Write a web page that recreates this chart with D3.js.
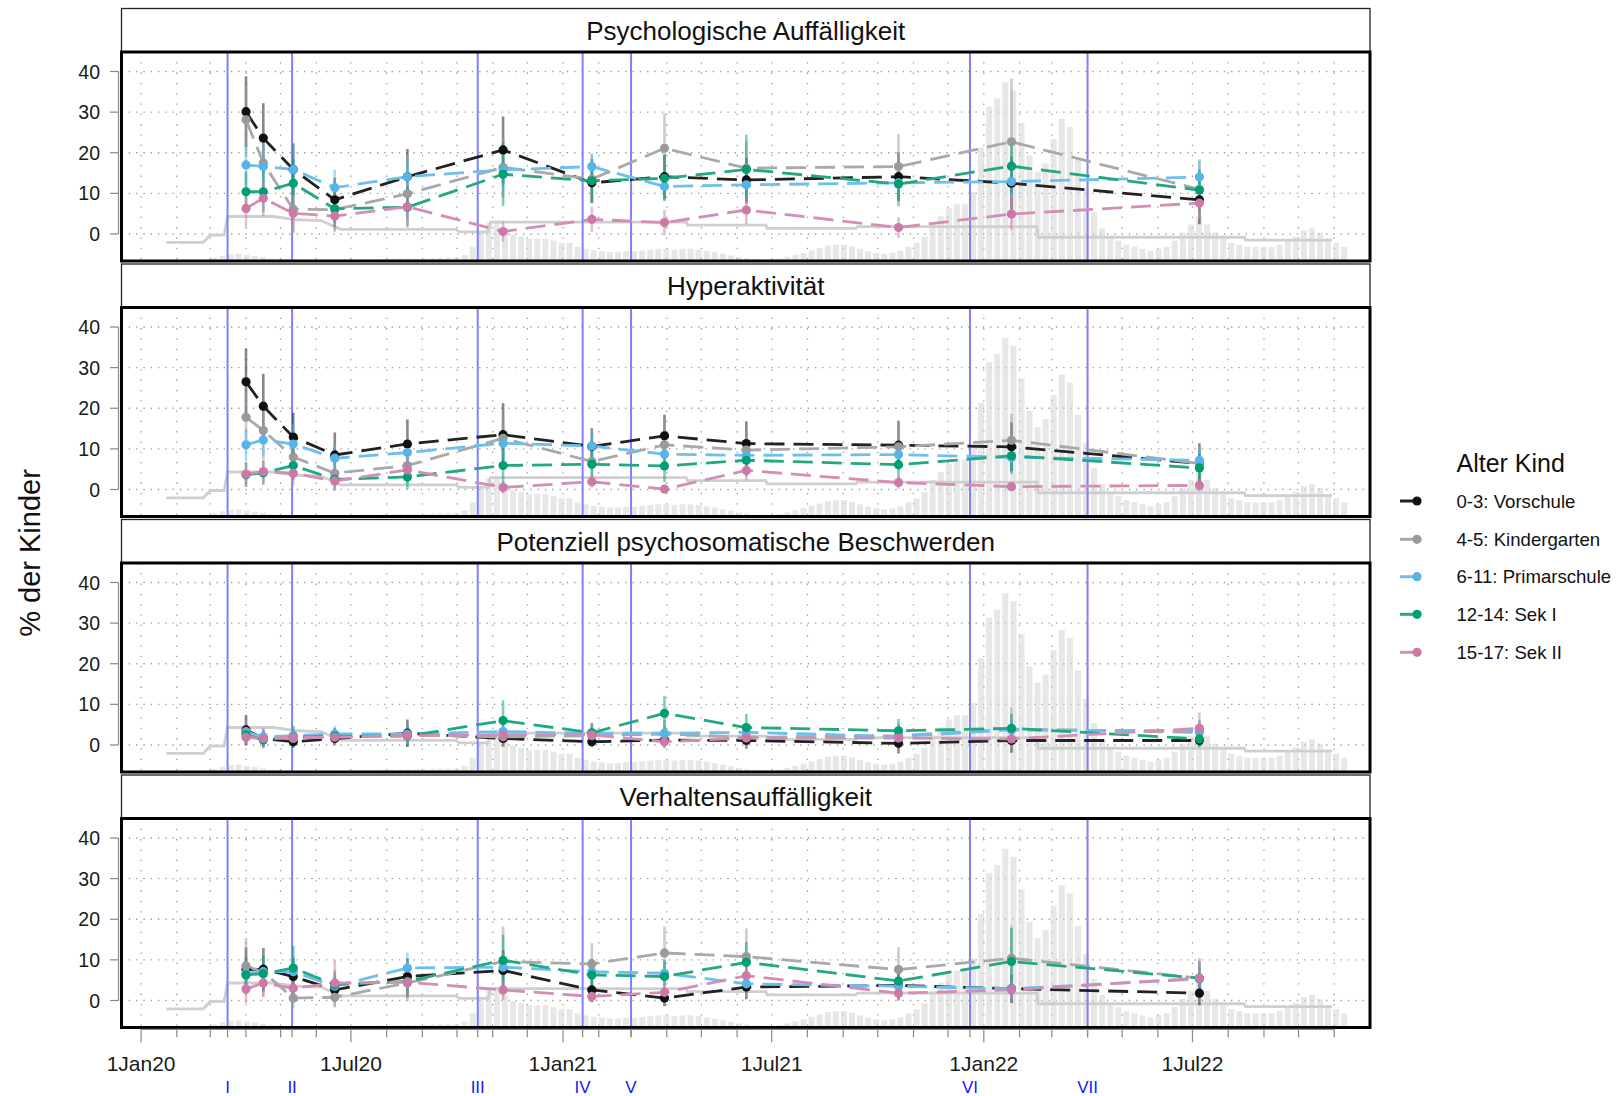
<!DOCTYPE html>
<html><head><meta charset="utf-8">
<script src="https://cdn.jsdelivr.net/npm/d3@7"></script>
<style>body{margin:0;background:#fff;} svg{display:block;font-family:"Liberation Sans",Arial,Helvetica,sans-serif;}</style>
</head><body><svg id="chart" width="1618" height="1096"></svg>
<script>
// ---------------- data ----------------
const surveyDates = ["2020-04-01","2020-04-16","2020-05-12","2020-06-17","2020-08-19","2020-11-10","2021-01-26","2021-03-30","2021-06-09","2021-10-19","2022-01-25","2022-07-07"];
const groups = ["0-3: Vorschule","4-5: Kindergarten","6-11: Primarschule","12-14: Sek I","15-17: Sek II"];
const facets = ["Psychologische Auffälligkeit","Hyperaktivität","Potenziell psychosomatische Beschwerden","Verhaltensauffälligkeit"];
const yTicks = [0,10,20,30,40];
const xTickLabels = [["2020-01-01","1Jan20"],["2020-07-01","1Jul20"],["2021-01-01","1Jan21"],["2021-07-01","1Jul21"],["2022-01-01","1Jan22"],["2022-07-01","1Jul22"]];
const eventDates = ["2020-03-16","2020-05-11","2020-10-19","2021-01-18","2021-03-01","2021-12-20","2022-04-01"];
const eventLabels = ["I","II","III","IV","V","VI","VII"];

// % per group (rows follow groups), per survey wave
const psychValues = [
  [30.1,23.6,15.9,8.4,14.1,20.7,12.6,14.1,13.3,14.1,12.5,8.4],
  [28.1,17.5,6.1,6.0,9.9,16.4,13.5,21.1,16.2,16.6,22.7,11.0],
  [17.0,16.6,15.9,11.4,14.1,15.8,16.6,11.7,12.1,12.6,12.9,14.0],
  [10.4,10.4,12.5,6.2,6.6,14.7,13.1,13.7,15.9,12.3,16.7,10.8],
  [6.3,8.8,5.1,4.4,6.7,0.6,3.6,2.8,5.9,1.6,4.9,7.6]];
const psychCI = [
  [8.7,8.6,6.4,5.5,6.8,8.2,5.0,5.5,5.5,6.0,6.5,6.0],
  [9.0,8.0,6.0,5.0,6.0,7.5,6.0,8.6,6.5,8.0,15.6,7.0],
  [5.0,5.0,6.4,4.4,5.0,4.0,3.3,3.5,3.5,3.5,4.0,4.4],
  [5.0,5.0,6.0,4.5,5.0,7.8,5.3,5.5,8.5,5.5,6.5,5.0],
  [4.5,4.5,4.5,4.0,4.5,2.5,3.1,3.1,3.5,2.5,4.0,4.0]];
const hyperValues = [
  [26.5,20.5,12.9,8.5,11.2,13.5,10.6,13.2,11.3,10.9,10.5,6.4],
  [17.8,14.5,8.0,4.0,5.9,12.6,6.9,11.0,9.7,10.5,12.1,6.4],
  [11.0,12.2,11.2,7.7,9.1,11.4,10.7,8.7,8.4,8.6,7.9,7.2],
  [3.6,4.1,5.9,2.5,3.1,5.9,6.2,5.8,7.2,6.1,8.3,5.3],
  [3.8,4.4,4.0,2.1,4.8,0.5,1.9,0.1,4.7,1.7,0.7,1.0]];
const hyperCI = [
  [8.2,8.0,6.0,5.5,6.0,7.7,4.5,5.2,5.5,6.0,6.0,5.0],
  [7.0,7.0,5.0,3.0,4.5,5.0,4.0,6.0,5.0,5.0,6.5,4.0],
  [4.0,4.0,5.0,3.5,4.0,4.0,4.4,3.0,3.0,3.0,3.5,3.5],
  [3.0,3.0,3.5,2.5,3.0,4.5,3.5,4.0,4.0,4.0,4.5,3.5],
  [3.0,3.0,3.0,2.5,3.0,1.5,1.5,1.0,2.5,1.5,1.0,1.5]];
const somaValues = [
  [3.7,1.6,0.8,1.6,2.9,1.6,0.8,1.2,1.1,0.4,1.1,1.1],
  [3.3,1.8,1.6,2.0,2.5,2.0,2.3,2.7,1.9,2.3,3.9,3.1],
  [3.0,2.0,2.3,2.7,2.7,3.3,2.9,2.9,3.1,2.1,3.7,3.5],
  [2.5,1.2,2.0,2.2,2.2,6.0,3.0,7.8,4.3,3.5,4.1,1.5],
  [1.9,1.6,1.9,1.9,2.3,2.5,2.5,0.8,1.7,1.7,1.5,4.1]];
const somaCI = [
  [3.7,2.0,1.5,1.5,3.4,2.0,1.2,1.5,2.0,2.5,3.0,1.5],
  [3.5,2.5,2.0,2.0,2.5,2.5,3.0,3.5,2.5,3.0,5.4,3.0],
  [2.0,2.0,2.5,2.0,2.0,2.0,2.0,2.0,2.0,2.0,2.5,2.5],
  [2.5,2.0,2.5,2.0,2.5,5.0,2.5,4.3,3.3,2.9,3.5,2.0],
  [2.0,2.0,2.0,2.0,2.0,2.0,2.0,1.5,2.0,2.0,2.0,3.9]];
const behavValues = [
  [7.6,7.7,5.9,2.6,5.9,7.4,2.6,0.6,3.3,3.7,2.9,1.8],
  [8.5,7.0,0.6,0.8,4.3,9.6,9.0,11.7,10.8,7.6,10.4,5.5],
  [6.7,7.1,7.1,3.5,8.0,8.2,7.1,6.7,4.1,3.5,2.9,5.3],
  [6.3,6.6,8.0,3.9,4.7,9.9,6.3,5.9,9.4,4.8,9.6,5.5],
  [2.8,4.3,3.0,4.3,4.5,2.6,1.0,2.0,6.1,1.8,2.6,5.5]];
const behavCI = [
  [5.5,5.2,4.5,3.0,4.5,5.0,3.0,2.0,3.0,3.5,3.5,3.0],
  [6.9,6.0,2.5,2.5,4.5,8.6,5.1,6.5,6.9,5.5,8.0,5.0],
  [3.5,3.5,4.0,3.0,3.8,3.5,3.0,3.0,3.0,2.5,2.5,3.0],
  [4.5,4.5,5.5,3.5,4.0,6.3,4.0,4.0,5.0,3.5,8.2,4.0],
  [3.5,3.5,3.0,5.7,3.5,2.5,1.5,2.0,3.5,2.0,2.5,4.5]];

// background: weekly case curve (height in axis units above panel floor), weeks from 2020-02-24
const caseFirstWeek = "2020-02-24";
const caseWeekly = [0.3,
 0.8,1.3,1.6,1.8,1.5, 1.2,0.9,0.6,0.4, 0.3,0.25,0.2,0.2, 0.2,0.2,0.25,0.3,0.35, 0.4,0.4,0.45,0.5,
 0.5,0.6,0.6,0.6,0.6, 0.7,0.8,0.8,0.9, 1.5,3.5,7,9.5, 10,8,6.5,6,5.5, 5.5,5.5,5,4.5,
 4.5,3.5,3,2.6, 2.4,2.2,2.2,2.4, 2.4,2.6,2.8,3,3, 2.8,3,3,2.8, 2.5,2.2,1.8,1.4,1.0,
 0.7,0.5,0.4,0.4, 0.6,1.0,1.5,2.0, 2.6,3.2,3.8,4.0,4.0, 3.6,3.0,2.4,2.0, 1.8,2.0,2.5,3.5,
 4.5,6,9,11,13, 14,14,17,28,
 38,40,44,42,34, 26,22,24,30, 35,33,25,18, 12,8,6,5, 4,3.5,3,2.5,3, 3.5,5,7,9,
 11,9,7,5.5, 4.5,4,3.5,3.5,3.5, 3.5,4,5,6, 7.5,8,7,5.5,4.5, 3.5];
// background: step index (axis units)
const stepDates = ["2020-01-23","2020-02-24","2020-03-01","2020-03-13","2020-03-16","2020-04-25","2020-05-15","2020-06-05","2020-06-22","2020-09-30","2020-10-03","2020-10-28","2020-10-30","2021-04-18","2021-04-19","2021-06-26","2021-06-27","2021-09-12","2021-09-13","2022-02-16","2022-02-17","2022-08-15","2022-08-16","2022-10-30"];
const stepValues = [-2.05,-2.05,-0.25,-0.25,4.3,4.3,3.5,3.3,1.15,1.15,0.5,0.5,2.9,2.9,2.2,2.2,1.4,1.4,1.8,1.8,-0.8,-0.8,-1.5,-1.5];

const facetValues = [psychValues, hyperValues, somaValues, behavValues];
const facetCI = [psychCI, hyperCI, somaCI, behavCI];

// ---------------- styles ----------------
const dotColors = ["#111111","#9a9a9a","#56B4E9","#009E73","#CC79A7"];
const lineColors = ["#222222","#a9a9a9","#6cbfee","#22a882","#d38db6"];

const svg = d3.select("#chart");
const parse = d3.timeParse("%Y-%m-%d");
const X0 = 121.5, X1 = 1370;
const x = d3.scaleTime().domain([parse("2019-12-15"), parse("2022-12-02")]).range([X0, X1]);
const panelH = 209;
const panelTop = i => 52 + 255.5 * i;
const yDomain = [-6.65, 44.8];

const months = d3.timeMonth.range(parse("2020-01-01"), parse("2022-12-01"));
const dates = surveyDates.map(parse);
const evDates = eventDates.map(parse);

const defs = svg.append("defs");

facets.forEach((name, fi) => {
  const top = panelTop(fi), bottom = top + panelH;
  const y = d3.scaleLinear().domain(yDomain).range([bottom, top]);
  const g = svg.append("g");
  defs.append("clipPath").attr("id", "clip" + fi)
    .append("rect").attr("x", X0).attr("y", top).attr("width", X1 - X0).attr("height", panelH);
  const pg = g.append("g").attr("clip-path", `url(#clip${fi})`);

  // strip
  g.append("rect").attr("x", X0).attr("y", top - 43.5).attr("width", X1 - X0).attr("height", 43.5)
    .attr("fill", "#fff").attr("stroke", "#222").attr("stroke-width", 1.3);
  g.append("text").attr("x", (X0 + X1) / 2).attr("y", top - 21.5).attr("dy", "0.36em")
    .attr("text-anchor", "middle").attr("font-size", 26).attr("fill", "#111").text(name);

  // grid
  pg.selectAll(".vg").data(months).join("line")
    .attr("x1", d => x(d)).attr("x2", d => x(d)).attr("y1", top).attr("y2", bottom)
    .attr("stroke", "#999").attr("stroke-width", 1.3).attr("stroke-dasharray", "1.3,9");
  pg.selectAll(".hg").data(yTicks).join("line")
    .attr("x1", X0).attr("x2", X1).attr("y1", d => y(d)).attr("y2", d => y(d))
    .attr("stroke", "#999").attr("stroke-width", 1.3).attr("stroke-dasharray", "1.3,6");

  // background weekly cases
  const w0 = parse(caseFirstWeek);
  pg.selectAll(".case").data(caseWeekly).join("rect")
    .attr("x", (d, i) => x(d3.timeDay.offset(w0, 7 * i)))
    .attr("width", (d, i) => x(d3.timeDay.offset(w0, 7 * i + 7)) - x(d3.timeDay.offset(w0, 7 * i)) - 2)
    .attr("y", d => y(yDomain[0] + d))
    .attr("height", d => y(yDomain[0]) - y(yDomain[0] + d))
    .attr("fill", "#d4d4d4").attr("opacity", 0.55);

  // step index
  pg.append("path").datum(stepDates.map((d, i) => [parse(d), stepValues[i]]))
    .attr("d", d3.line().x(d => x(d[0])).y(d => y(d[1])))
    .attr("fill", "none").attr("stroke", "#cfcfcf").attr("stroke-width", 2.8);

  // event lines
  pg.selectAll(".ev").data(evDates).join("line")
    .attr("x1", d => x(d)).attr("x2", d => x(d)).attr("y1", top).attr("y2", bottom)
    .attr("stroke", "#7f7fff").attr("stroke-width", 2);

  const vals = facetValues[fi], ci = facetCI[fi];
  // error bars
  vals.forEach((row, gi) => {
    pg.selectAll(".eb" + gi).data(row).join("line")
      .attr("x1", (d, i) => x(dates[i])).attr("x2", (d, i) => x(dates[i]))
      .attr("y1", (d, i) => y(d - ci[gi][i])).attr("y2", (d, i) => y(d + ci[gi][i]))
      .attr("stroke", dotColors[gi]).attr("stroke-opacity", 0.5).attr("stroke-width", 2.6);
  });
  // lines
  vals.forEach((row, gi) => {
    pg.append("path").datum(row)
      .attr("d", d3.line().x((d, i) => x(dates[i])).y(d => y(d)))
      .attr("fill", "none").attr("stroke", lineColors[gi]).attr("stroke-width", 2.8)
      .attr("stroke-dasharray", "20,9");
  });
  // points
  vals.forEach((row, gi) => {
    pg.selectAll(".pt" + gi).data(row).join("circle")
      .attr("cx", (d, i) => x(dates[i])).attr("cy", d => y(d)).attr("r", 4.6)
      .attr("fill", dotColors[gi]);
  });

  // panel border
  g.append("rect").attr("x", X0).attr("y", top).attr("width", X1 - X0).attr("height", panelH)
    .attr("fill", "none").attr("stroke", "#000").attr("stroke-width", 3);

  // y axis
  g.append("line").attr("x1", 118.5).attr("x2", 118.5).attr("y1", y(0)).attr("y2", y(40))
    .attr("stroke", "#888").attr("stroke-width", 1.2);
  g.selectAll(".yt").data(yTicks).join("line")
    .attr("x1", 110).attr("x2", 118.5).attr("y1", d => y(d)).attr("y2", d => y(d))
    .attr("stroke", "#888").attr("stroke-width", 1.2);
  g.selectAll(".yl").data(yTicks).join("text")
    .attr("x", 100).attr("y", d => y(d)).attr("dy", "0.36em").attr("text-anchor", "end")
    .attr("font-size", 19.5).attr("fill", "#1a1a1a").text(d => d);
});

// x axis (bottom)
const axY = panelTop(3) + panelH + 1.8;
const majorSet = new Set(xTickLabels.map(d => d[0]));
svg.append("line").attr("x1", x(parse("2020-01-01"))).attr("x2", x(parse("2022-11-01")))
  .attr("y1", axY).attr("y2", axY).attr("stroke", "#888").attr("stroke-width", 1.2);
svg.selectAll(".xt").data(months.concat(evDates)).join("line")
  .attr("x1", d => x(d)).attr("x2", d => x(d)).attr("y1", axY)
  .attr("y2", d => axY + (majorSet.has(d3.timeFormat("%Y-%m-%d")(d)) ? 13 : 8))
  .attr("stroke", "#888").attr("stroke-width", 1.2);
svg.selectAll(".xl").data(xTickLabels).join("text")
  .attr("x", d => x(parse(d[0]))).attr("y", 1071).attr("text-anchor", "middle")
  .attr("font-size", 21).attr("fill", "#1a1a1a").text(d => d[1]);
svg.selectAll(".evl").data(eventLabels).join("text")
  .attr("x", (d, i) => x(evDates[i])).attr("y", 1093).attr("text-anchor", "middle")
  .attr("font-size", 17).attr("fill", "#1515ff").text(d => d);

// y title
svg.append("text").attr("transform", "translate(40,553) rotate(-90)").attr("text-anchor", "middle")
  .attr("font-size", 29).attr("fill", "#111").text("% der Kinder");

// legend
svg.append("text").attr("x", 1456.5).attr("y", 471.5).attr("font-size", 25).attr("fill", "#111").text("Alter Kind");
const legY = [501, 539.3, 576.7, 614.3, 652.3];
groups.forEach((gname, gi) => {
  svg.append("line").attr("x1", 1400).attr("x2", 1417).attr("y1", legY[gi]).attr("y2", legY[gi])
    .attr("stroke", lineColors[gi]).attr("stroke-width", 3);
  svg.append("circle").attr("cx", 1417).attr("cy", legY[gi]).attr("r", 4.6).attr("fill", dotColors[gi]);
  svg.append("text").attr("x", 1456.5).attr("y", legY[gi]).attr("dy", "0.36em")
    .attr("font-size", 18.6).attr("fill", "#111").text(gname);
});
</script></body></html>
